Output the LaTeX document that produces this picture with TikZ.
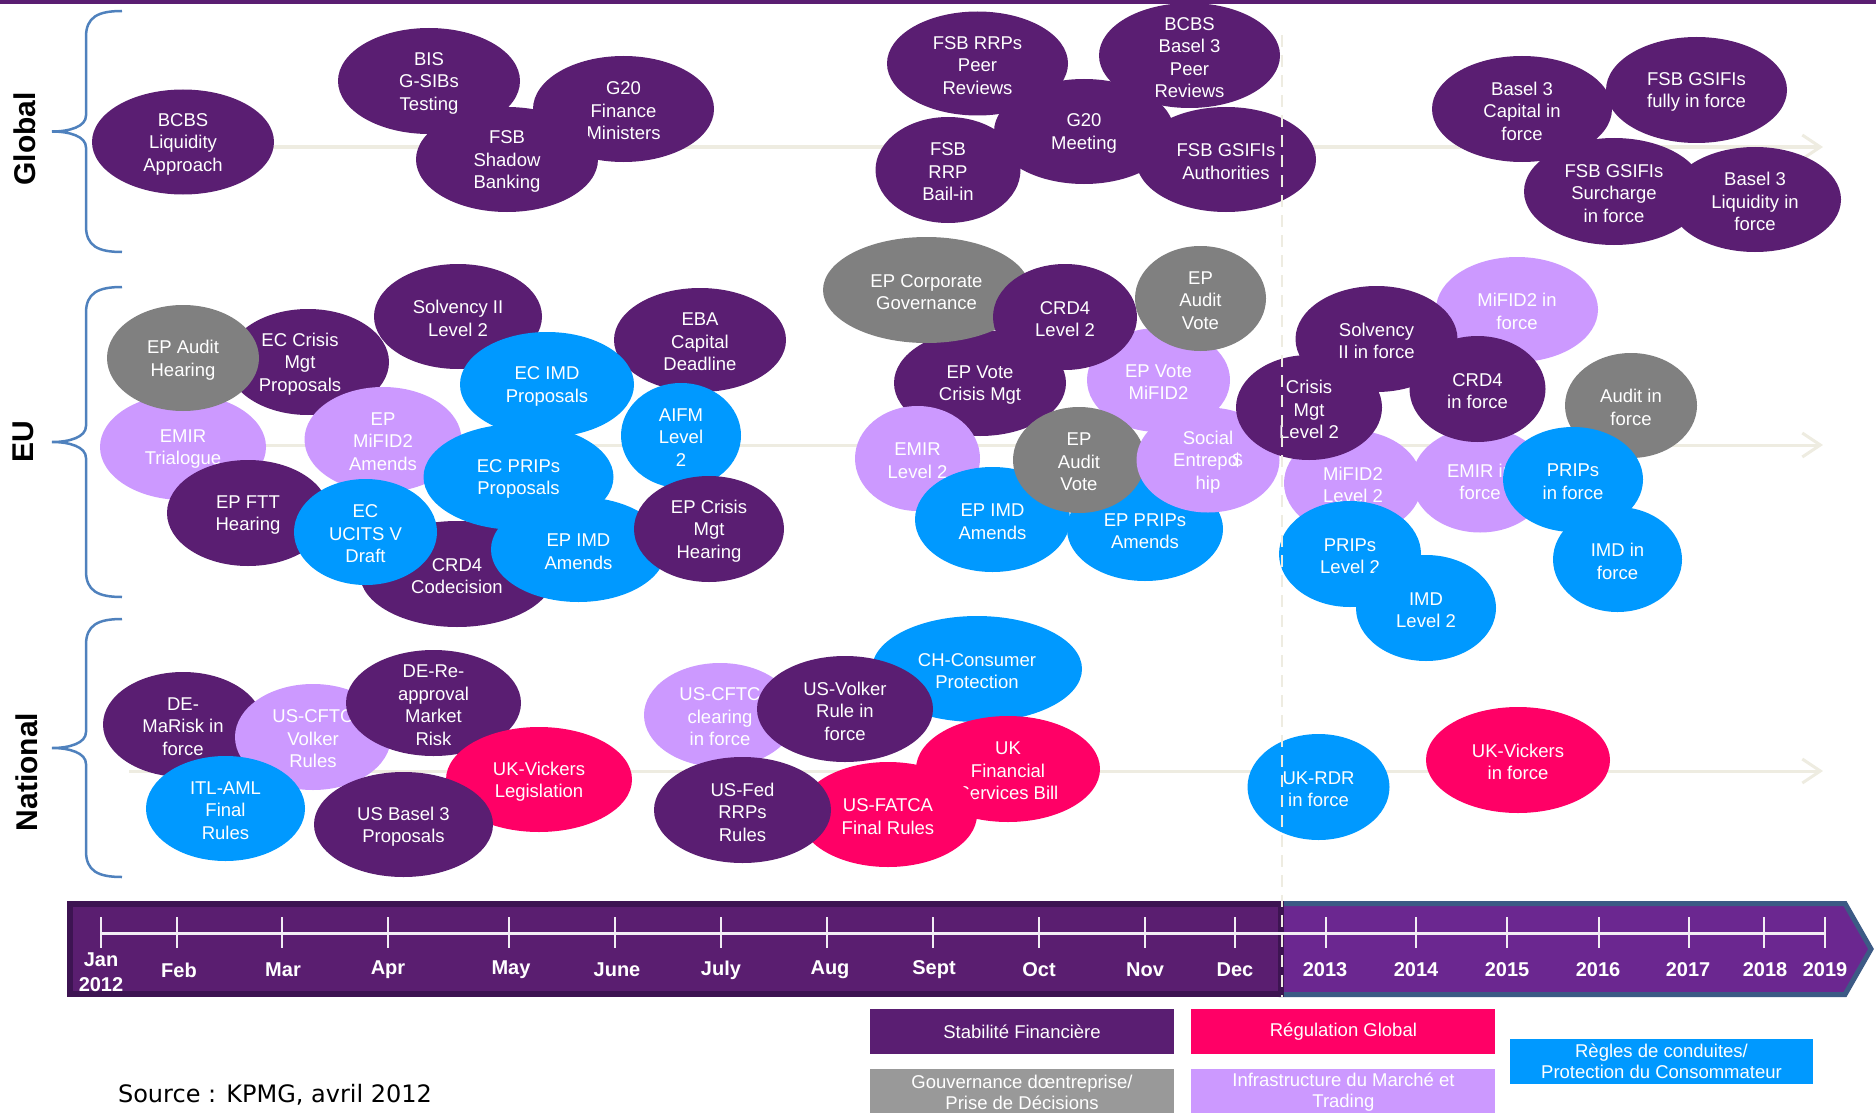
\documentclass[tikz,border=0pt]{standalone}
\usepackage{fontspec}
\setmainfont{Liberation Sans}
\newfontfamily\srcfont{DejaVu Sans}
\usetikzlibrary{positioning, shapes.geometric, arrows.meta}
\definecolor{sfcol}{HTML}{5A1E72}
\definecolor{rgcol}{HTML}{FF0066}
\definecolor{pccol}{HTML}{0099FF}
\definecolor{gvcol}{HTML}{808080}
\definecolor{gvbox}{HTML}{999999}
\definecolor{imcol}{HTML}{CC99FF}
\definecolor{axiscol}{HTML}{EEECE1}
\definecolor{bracecol}{HTML}{4F81BD}
\definecolor{barleft}{HTML}{5A1E70}
\definecolor{barleftrim}{HTML}{3D1452}
\definecolor{barright}{HTML}{6B2790}
\definecolor{barrightrim}{HTML}{3C5A85}
\tikzset{
  bub/.style = {ellipse, inner sep=0pt},
  txt/.style = {text=white, align=center, inner sep=0pt, yshift=-2pt, font=\fontsize{18.5}{22.5}\selectfont},
  legbox/.style = {rectangle, inner sep=0pt, minimum width=304, minimum height=45, text=white, align=center, font=\fontsize{18.5}{21}\selectfont},
  rowlab/.style = {rotate=90, font=\fontsize{30}{36}\selectfont\bfseries},
  month/.style = {text=white, align=center, inner sep=0pt, font=\fontsize{20}{25}\selectfont\bfseries},
  axis/.style = {axiscol, line width=3pt, -{Straight Barb[length=18pt, width=24pt]}},
  brace/.style = {bracecol, line width=2.5pt},
  tick/.style = {white!92!sfcol, line width=2pt},
  nowline/.style = {axiscol, line width=2pt, dash pattern=on 12pt off 8pt},
}
\begin{document}
\begin{tikzpicture}[x=1pt, y=-1pt]
\useasboundingbox (0,0) rectangle (1876,1113);
\fill[sfcol] (0,0) rectangle (1876,4);

\foreach \r/\y in {glob/147, eu/445, nat/771}{
  \coordinate (\r-s) at (129,\y);
  \coordinate (\r-e) at (1823,\y);
  \draw[axis] (\r-s) -- (\r-e);
}

\foreach \t/\b in {11/252, 287/597, 619/877}{
  \pgfmathsetmacro\m{(\t+\b)/2}
  \draw[brace] (122,\t) .. controls (98,\t) and (86,\t+6) .. (86,\t+26) -- (86,\m-16)
    .. controls (86,\m-5) and (70,\m) .. (52,\m) .. controls (70,\m) and (86,\m+5) .. (86,\m+16)
    -- (86,\b-26) .. controls (86,\b-6) and (98,\b) .. (122,\b);
}
\node[rowlab] (global) at (25,139) {Global};
\node[rowlab] (eu) at (23,442) {EU};
\node[rowlab] (national) at (27,772) {National};

\node[bub, fill=sfcol, minimum width=182, minimum height=105, label={[txt]center:BCBS\\Liquidity\\Approach}] (bcbsliq) at (183,142) {};
\node[bub, fill=sfcol, minimum width=182, minimum height=106, label={[txt]center:BIS\\G-SIBs\\Testing}] (bisgsib) at (429,81) {};
\node[bub, fill=sfcol, minimum width=181, minimum height=106, label={[txt]center:G20\\Finance\\Ministers}] (gtwfin) at (623.5,109) {};
\node[bub, fill=sfcol, minimum width=182, minimum height=105, label={[txt]center:FSB\\Shadow\\Banking}] (fsbshadow) at (507,159.5) {};
\node[bub, fill=sfcol, minimum width=181, minimum height=104, label={[txt]center:FSB RRPs\\Peer\\Reviews}] (fsbpeer) at (977.5,63.5) {};
\node[bub, fill=sfcol, minimum width=181, minimum height=105, label={[txt]center:BCBS\\Basel 3\\Peer\\Reviews}] (bcbspeer) at (1189.5,55.5) {};
\node[bub, fill=sfcol, minimum width=180, minimum height=105, label={[txt]center:G20\\Meeting}] (gtwmeet) at (1084,131.5) {};
\node[bub, fill=sfcol, minimum width=145, minimum height=106, label={[txt]center:FSB\\RRP\\Bail-in}] (fsbbail) at (948,170) {};
\node[bub, fill=sfcol, minimum width=180, minimum height=105, label={[txt]center:FSB GSIFIs\\Authorities}] (fsbauth) at (1226,159.5) {};
\node[bub, fill=sfcol, minimum width=180, minimum height=106, label={[txt]center:Basel 3\\Capital in\\force}] (bthcap) at (1522,109) {};
\node[bub, fill=sfcol, minimum width=181, minimum height=106, label={[txt]center:FSB GSIFIs\\fully in force}] (gsififull) at (1696.5,90) {};
\node[bub, fill=sfcol, minimum width=180, minimum height=107, label={[txt]center:FSB GSIFIs\\Surcharge\\in force}] (gsifisur) at (1614,191.5) {};
\node[bub, fill=sfcol, minimum width=172, minimum height=105, label={[txt]center:Basel 3\\Liquidity in\\force}] (bthliq) at (1755,199.5) {};

\node[bub, fill=imcol, minimum width=166, minimum height=106, label={[txt]center:EMIR\\Trialogue}] (emirtri) at (183,447) {};
\node[bub, fill=sfcol, minimum width=162, minimum height=106, label={[txt,xshift=-8pt]center:EC Crisis\\Mgt\\Proposals}] (eccrisis) at (308,362) {};
\node[bub, fill=gvcol, minimum width=152, minimum height=106, label={[txt]center:EP Audit\\Hearing}] (epaudhear) at (183,358) {};
\node[bub, fill=sfcol, minimum width=168, minimum height=105, label={[txt]center:Solvency II\\Level 2}] (solvlvl) at (458,316.5) {};
\node[bub, fill=imcol, minimum width=157, minimum height=105, label={[txt]center:EP\\MiFID2\\Amends}] (epmifid) at (383,439.5) {};
\node[bub, fill=sfcol, minimum width=172, minimum height=104, label={[txt]center:EBA\\Capital\\Deadline}] (ebacap) at (700,340) {};
\node[bub, fill=pccol, minimum width=174, minimum height=105, label={[txt]center:EC IMD\\Proposals}] (ecimd) at (547,384.5) {};
\node[bub, fill=pccol, minimum width=120, minimum height=105, label={[txt]center:AIFM\\Level\\2}] (aifm) at (681,435.5) {};
\node[bub, fill=sfcol, minimum width=194, minimum height=106, label={[txt]center:CRD4\\Codecision}] (crdcod) at (457,574) {};
\node[bub, fill=pccol, minimum width=190, minimum height=106, label={[txt]center:EC PRIPs\\Proposals}] (ecprips) at (518.5,477) {};
\node[bub, fill=sfcol, minimum width=162, minimum height=106, label={[txt]center:EP FTT\\Hearing}] (epftt) at (248,513) {};
\node[bub, fill=pccol, minimum width=143, minimum height=106, label={[txt]center:EC\\UCITS V\\Draft}] (ecucits) at (365.5,532) {};
\node[bub, fill=pccol, minimum width=175, minimum height=105, label={[txt]center:EP IMD\\Amends}] (epimdl) at (578.5,549.5) {};
\node[bub, fill=sfcol, minimum width=150, minimum height=106, label={[txt]center:EP Crisis\\Mgt\\Hearing}] (epcrisis) at (709,529) {};

\node[bub, fill=imcol, minimum width=143, minimum height=104, label={[txt]center:EP Vote\\MiFID2}] (epvotemif) at (1158.5,380) {};
\node[bub, fill=sfcol, minimum width=172, minimum height=106, label={[txt]center:EP Vote\\Crisis Mgt}] (epvotecris) at (980,383) {};
\node[bub, fill=gvcol, minimum width=207, minimum height=106, label={[txt]center:EP Corporate\\Governance}] (epcorp) at (926.5,290) {};
\node[bub, fill=sfcol, minimum width=144, minimum height=106, label={[txt]center:CRD4\\Level 2}] (crdlvl) at (1065,317) {};
\node[bub, fill=gvcol, minimum width=131, minimum height=105, label={[txt]center:EP\\Audit\\Vote}] (epaudvotea) at (1200.5,298.5) {};
\node[bub, fill=imcol, minimum width=125, minimum height=105, label={[txt]center:EMIR\\Level 2}] (emirlvl) at (917.5,458.5) {};
\node[bub, fill=pccol, minimum width=155, minimum height=105, label={[txt]center:EP IMD\\Amends}] (epimdr) at (992.5,519.5) {};
\node[bub, fill=pccol, minimum width=156, minimum height=104, label={[txt]center:EP PRIPs\\Amends}] (epprips) at (1145,529) {};
\node[bub, fill=gvcol, minimum width=132, minimum height=106, label={[txt]center:EP\\Audit\\Vote}] (epaudvoteb) at (1079,460) {};
\node[bub, fill=imcol, minimum width=143, minimum height=105, label={[txt]center:Social\\Entrepo\kern-0.3em\$\\hip}] (social) at (1208,460) {};

\node[bub, fill=imcol, minimum width=162, minimum height=105, label={[txt]center:MiFID2 in\\force}] (mifidforce) at (1517,309.5) {};
\node[bub, fill=imcol, minimum width=138, minimum height=105, label={[txt]center:MiFID2\\Level 2}] (mifidlvl) at (1353,483) {};
\node[bub, fill=imcol, minimum width=136, minimum height=105, label={[txt]center:EMIR in\\force}] (emirforce) at (1480,480) {};
\node[bub, fill=sfcol, minimum width=162, minimum height=106, label={[txt]center:Solvency\\II in force}] (solvforce) at (1376.5,339) {};
\node[bub, fill=sfcol, minimum width=146, minimum height=105, label={[txt]center:Crisis\\Mgt\\Level 2}] (crisislvl) at (1309,407.5) {};
\node[bub, fill=sfcol, minimum width=136, minimum height=106, label={[txt]center:CRD4\\in force}] (crdforce) at (1477.5,389) {};
\node[bub, fill=gvcol, minimum width=132, minimum height=105, label={[txt]center:Audit in\\force}] (auditforce) at (1631,405.5) {};
\node[bub, fill=pccol, minimum width=140, minimum height=105, label={[txt]center:PRIPs\\in force}] (pripsforce) at (1573,479.5) {};
\node[bub, fill=pccol, minimum width=142, minimum height=106, label={[txt]center:PRIPs\\Level 2}] (pripslvl) at (1350,554) {};
\node[bub, fill=pccol, minimum width=140, minimum height=106, label={[txt]center:IMD\\Level 2}] (imdlvl) at (1426,608) {};
\node[bub, fill=pccol, minimum width=129, minimum height=105, label={[txt]center:IMD in\\force}] (imdforce) at (1617.5,559.5) {};

\node[bub, fill=sfcol, minimum width=160, minimum height=105, label={[txt]center:DE-\\MaRisk in\\force}] (demarisk) at (183,724.5) {};
\node[bub, fill=imcol, minimum width=156, minimum height=106, label={[txt]center:US-CFTC\\Volker\\Rules}] (cftcvolk) at (313,737) {};
\node[bub, fill=sfcol, minimum width=175, minimum height=106, label={[txt]center:DE-Re-\\approval\\Market\\Risk}] (dereapp) at (433.5,703) {};
\node[bub, fill=pccol, minimum width=159, minimum height=105, label={[txt]center:ITL-AML\\Final\\Rules}] (itlaml) at (225.5,808.5) {};
\node[bub, fill=rgcol, minimum width=186, minimum height=105, label={[txt]center:UK-Vickers\\Legislation}] (ukvickleg) at (539,779.5) {};
\node[bub, fill=sfcol, minimum width=179, minimum height=105, label={[txt]center:US Basel 3\\Proposals}] (usbasel) at (403.5,824.5) {};
\node[bub, fill=imcol, minimum width=152, minimum height=104, label={[txt]center:US-CFTC\\clearing\\in force}] (cftcclear) at (720,715) {};
\node[bub, fill=pccol, minimum width=210, minimum height=106, label={[txt]center:CH-Consumer\\Protection}] (chcons) at (977,669) {};
\node[bub, fill=sfcol, minimum width=176, minimum height=106, label={[txt]center:US-Volker\\Rule in\\force}] (usvolker) at (845,709) {};
\node[bub, fill=rgcol, minimum width=184, minimum height=106, label={[txt]center:UK\\Financial\\Services Bill}] (ukfinserv) at (1008,769) {};
\node[bub, fill=rgcol, minimum width=178, minimum height=105, label={[txt]center:US-FATCA\\Final Rules}] (usfatca) at (888,814.5) {};
\node[bub, fill=sfcol, minimum width=177, minimum height=106, label={[txt]center:US-Fed\\RRPs\\Rules}] (usfed) at (742.5,810) {};
\node[bub, fill=pccol, minimum width=142, minimum height=106, label={[txt]center:UK-RDR\\in force}] (ukrdr) at (1318.5,787) {};
\node[bub, fill=rgcol, minimum width=184, minimum height=106, label={[txt]center:UK-Vickers\\in force}] (ukvickforce) at (1518,760) {};

\filldraw[fill=barright, draw=barrightrim, line width=5pt] (1281,903.5) -- (1845,903.5) -- (1871,949) -- (1845,994.5) -- (1281,994.5) -- cycle;
\filldraw[fill=barleft, draw=barleftrim, line width=6pt] (70,904) rectangle (1281,994);
\coordinate (tl-start) at (101,933);
\coordinate (tl-end) at (1825,933);
\draw[tick, line width=3pt] (tl-start) -- (tl-end);
\foreach \x in {101,177,282,388,509,615,721,827,933,1039,1145,1235,1326,1416,1507,1599,1689,1764,1825}
  \draw[tick] (\x,917) -- (\x,948);
\node[month] (mJan) at (101,972) {Jan\\2012};
\foreach \x/\m in {179/Feb, 283/Mar, 388/Apr, 511/May, 617/June, 721/July, 830/Aug, 934/Sept, 1039/Oct, 1145/Nov, 1235/Dec, 1325/2013, 1416/2014, 1507/2015, 1598/2016, 1688/2017, 1765/2018, 1825/2019}
  \node[month] (m\m) at (\x,970) {\m};

\coordinate (now-top) at (1282,35);
\coordinate (now-bot) at (1282,997);
\draw[nowline] (now-top) -- (now-bot);

\node[legbox, fill=sfcol] (stab) at (1022,1031.5) {Stabilité Financière};
\node[legbox, fill=rgcol, right=17pt of stab] (regl) {Régulation Global};
\node[legbox, fill=gvbox, below=15pt of stab] (gouv) {Gouvernance dœntreprise/\\Prise de Décisions};
\node[legbox, fill=imcol, below=15pt of regl] (infra) {Infrastructure du Marché et\\Trading};
\node[legbox, fill=pccol, minimum width=303] (proc) at (1661.5,1061.5) {Règles de conduites/\\Protection du Consommateur};

\node[font=\srcfont\fontsize{24}{29}\selectfont] (source) at (275,1095) {Source : KPMG, avril 2012};
\end{tikzpicture}
\end{document}
